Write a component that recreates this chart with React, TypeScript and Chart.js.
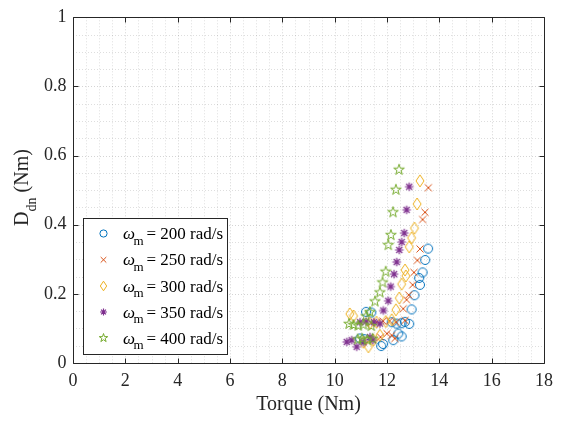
import { useEffect, useRef } from "react";
import { Chart, registerables } from "chart.js";

Chart.register(...registerables);

// Drive speeds (rad/s) shown in the legend
const speeds = [200, 250, 300, 350, 400];

// Torque (Nm) and D_dn (Nm) for each speed
const torque200 = [13.57, 13.46, 13.36, 13.26, 13.23, 13.05, 12.94, 12.85, 12.69, 12.56, 12.43, 12.56, 12.37, 12.18, 12.24, 11.85, 11.78, 11.4, 11.2, 11.13, 10.97];
const dn200 = [0.331, 0.298, 0.262, 0.226, 0.246, 0.196, 0.155, 0.113, 0.119, 0.115, 0.085, 0.077, 0.114, 0.118, 0.066, 0.055, 0.049, 0.146, 0.148, 0.069, 0.071];

const torque250 = [13.58, 13.45, 13.36, 13.26, 13.16, 13.03, 12.98, 12.83, 12.75, 12.62, 12.69, 12.35, 12.1, 11.85, 11.6, 11.4, 12.3, 12.18, 12.0, 11.75];
const dn250 = [0.507, 0.436, 0.415, 0.33, 0.297, 0.262, 0.226, 0.197, 0.183, 0.157, 0.123, 0.118, 0.122, 0.121, 0.118, 0.116, 0.071, 0.08, 0.085, 0.075];

const torque300 = [13.26, 13.15, 13.05, 12.94, 12.85, 12.72, 12.69, 12.56, 12.47, 12.34, 12.18, 11.95, 11.6, 11.35, 10.58, 10.72, 11.73, 11.48, 11.29, 11.1];
const dn300 = [0.527, 0.46, 0.39, 0.362, 0.336, 0.252, 0.269, 0.228, 0.188, 0.154, 0.125, 0.12, 0.118, 0.115, 0.142, 0.136, 0.08, 0.066, 0.047, 0.06];

const torque350 = [12.85, 12.75, 12.66, 12.56, 12.47, 12.37, 12.27, 12.14, 12.05, 11.86, 11.73, 11.5, 11.2, 10.97, 11.46, 11.35, 11.1, 10.84, 10.65, 10.46];
const dn350 = [0.51, 0.443, 0.376, 0.35, 0.327, 0.292, 0.257, 0.221, 0.18, 0.152, 0.114, 0.118, 0.12, 0.118, 0.066, 0.075, 0.06, 0.047, 0.066, 0.061];

const torque400 = [12.46, 12.34, 12.23, 12.15, 12.05, 11.95, 11.83, 11.73, 11.54, 11.35, 11.2, 11.4, 11.1, 10.9, 10.72, 10.55, 11.45, 11.25, 11.05, 10.88];
const dn400 = [0.559, 0.501, 0.436, 0.37, 0.341, 0.264, 0.233, 0.204, 0.178, 0.147, 0.135, 0.107, 0.111, 0.108, 0.11, 0.113, 0.07, 0.066, 0.07, 0.068];

const torqueSets = [torque200, torque250, torque300, torque350, torque400];
const dnSets = [dn200, dn250, dn300, dn350, dn400];

// Axis ranges and spacing
const xMin = 0;
const xMax = 18;
const xMajor = 2;
const xMinor = 0.5;
const yMin = 0;
const yMax = 1;
const yMajor = 0.2;
const yMinor = 0.05;

const colors = ["#0072BD", "#D95319", "#EDB120", "#7E2F8E", "#77AC30"];
const kinds = ["circle", "x", "diamond", "asterisk", "pentagram"] as const;
type Kind = (typeof kinds)[number];

const SERIF = '"Liberation Serif", "Times New Roman", serif';
const AXIS_COLOR = "#262626";

function traceMarker(ctx: CanvasRenderingContext2D, kind: Kind, s: number) {
  ctx.beginPath();
  if (kind === "circle") {
    ctx.arc(0, 0, 4.5 * s, 0, Math.PI * 2);
  } else if (kind === "x") {
    const r = 3.5 * s;
    ctx.moveTo(-r, -r);
    ctx.lineTo(r, r);
    ctx.moveTo(r, -r);
    ctx.lineTo(-r, r);
  } else if (kind === "diamond") {
    const w = 4 * s;
    const h = 6 * s;
    ctx.moveTo(0, -h);
    ctx.lineTo(w, 0);
    ctx.lineTo(0, h);
    ctx.lineTo(-w, 0);
    ctx.closePath();
  } else if (kind === "asterisk") {
    const r = 4.3 * s;
    const d = r * Math.SQRT1_2;
    ctx.moveTo(-r, 0);
    ctx.lineTo(r, 0);
    ctx.moveTo(0, -r);
    ctx.lineTo(0, r);
    ctx.moveTo(-d, -d);
    ctx.lineTo(d, d);
    ctx.moveTo(d, -d);
    ctx.lineTo(-d, d);
  } else {
    const R = 5.6 * s;
    const r = R * 0.382;
    for (let i = 0; i < 10; i++) {
      const a = -Math.PI / 2 + (i * Math.PI) / 5;
      const rr = i % 2 === 0 ? R : r;
      const px = Math.cos(a) * rr;
      const py = Math.sin(a) * rr;
      if (i === 0) ctx.moveTo(px, py);
      else ctx.lineTo(px, py);
    }
    ctx.closePath();
  }
}

function markerCanvas(kind: Kind, color: string): HTMLCanvasElement {
  const size = 16;
  const c = document.createElement("canvas");
  c.width = size;
  c.height = size;
  const ctx = c.getContext("2d")!;
  ctx.translate(size / 2, size / 2);
  ctx.strokeStyle = color;
  ctx.lineWidth = kind === "asterisk" ? 1.2 : 1;
  traceMarker(ctx, kind, 1);
  ctx.stroke();
  return c;
}

const matlabAxes = {
  id: "matlabAxes",
  beforeDraw(chart: Chart) {
    const { ctx, width, height } = chart;
    ctx.save();
    ctx.fillStyle = "#ffffff";
    ctx.fillRect(0, 0, width, height);
    ctx.restore();
  },
  beforeDatasetsDraw(chart: Chart) {
    const { ctx, chartArea: a, scales } = chart;
    const xs = scales.x;
    const ys = scales.y;
    ctx.save();
    ctx.lineWidth = 1;
    ctx.setLineDash([1, 2]);
    const nx = Math.round((xMax - xMin) / xMinor);
    for (let i = 1; i < nx; i++) {
      const v = xMin + i * xMinor;
      const px = Math.round(xs.getPixelForValue(v)) + 0.5;
      ctx.strokeStyle = i % Math.round(xMajor / xMinor) === 0 ? "rgba(0,0,0,0.17)" : "rgba(0,0,0,0.13)";
      ctx.beginPath();
      ctx.moveTo(px, a.top);
      ctx.lineTo(px, a.bottom);
      ctx.stroke();
    }
    const ny = Math.round((yMax - yMin) / yMinor);
    for (let i = 1; i < ny; i++) {
      const v = yMin + i * yMinor;
      const py = Math.round(ys.getPixelForValue(v)) + 0.5;
      ctx.strokeStyle = i % Math.round(yMajor / yMinor) === 0 ? "rgba(0,0,0,0.17)" : "rgba(0,0,0,0.13)";
      ctx.beginPath();
      ctx.moveTo(a.left, py);
      ctx.lineTo(a.right, py);
      ctx.stroke();
    }
    ctx.restore();
  },
  afterDatasetsDraw(chart: Chart) {
    const { ctx, chartArea: a, scales } = chart;
    const xs = scales.x;
    const ys = scales.y;
    const L = Math.round(a.left) + 0.5;
    const R = Math.round(a.right) + 0.5;
    const T = Math.round(a.top) + 0.5;
    const B = Math.round(a.bottom) + 0.5;
    ctx.save();
    ctx.strokeStyle = AXIS_COLOR;
    ctx.lineWidth = 1;
    ctx.beginPath();
    ctx.rect(L, T, R - L, B - T);
    ctx.stroke();
    // inward tick marks on all four sides
    const tl = 5;
    ctx.beginPath();
    for (let v = xMin; v <= xMax + 1e-9; v += xMajor) {
      const px = Math.round(xs.getPixelForValue(v)) + 0.5;
      ctx.moveTo(px, B);
      ctx.lineTo(px, B - tl);
      ctx.moveTo(px, T);
      ctx.lineTo(px, T + tl);
    }
    for (let v = yMin; v <= yMax + 1e-9; v += yMajor) {
      const py = Math.round(ys.getPixelForValue(v)) + 0.5;
      ctx.moveTo(L, py);
      ctx.lineTo(L + tl, py);
      ctx.moveTo(R, py);
      ctx.lineTo(R - tl, py);
    }
    ctx.stroke();

    // legend box
    const lx = 83.5;
    const ly = 218.5;
    const lw = 144;
    const lh = 136;
    ctx.fillStyle = "#ffffff";
    ctx.fillRect(lx, ly, lw, lh);
    ctx.strokeStyle = AXIS_COLOR;
    ctx.strokeRect(lx, ly, lw, lh);
    const rowY = [233.5, 259.8, 286, 312, 338];
    speeds.forEach((sp, i) => {
      const y = rowY[i];
      ctx.save();
      ctx.translate(103.5, y);
      ctx.strokeStyle = colors[i];
      ctx.lineWidth = kinds[i] === "asterisk" ? 1.2 : 1;
      traceMarker(ctx, kinds[i], 0.8);
      ctx.stroke();
      ctx.restore();
      ctx.fillStyle = "#000000";
      ctx.textBaseline = "alphabetic";
      ctx.textAlign = "left";
      ctx.font = `italic 17px ${SERIF}`;
      ctx.fillText("\u03C9", 123, y + 5.5);
      ctx.font = `13px ${SERIF}`;
      ctx.fillText("m", 133.5, y + 11);
      ctx.font = `17px ${SERIF}`;
      ctx.fillText(`= ${sp} rad/s`, 146.5, y + 5.5);
    });

    // y-axis title with subscript
    ctx.translate(28, 187.5);
    ctx.rotate(-Math.PI / 2);
    ctx.fillStyle = AXIS_COLOR;
    ctx.textBaseline = "alphabetic";
    ctx.textAlign = "left";
    const main = `20px ${SERIF}`;
    const sub = `14px ${SERIF}`;
    ctx.font = main;
    const wD = ctx.measureText("D").width;
    const wRest = ctx.measureText(" (Nm)").width;
    ctx.font = sub;
    const wSub = ctx.measureText("dn").width;
    let x = -(wD + wSub + wRest) / 2;
    ctx.font = main;
    ctx.fillText("D", x, 0);
    x += wD;
    ctx.font = sub;
    ctx.fillText("dn", x, 8);
    x += wSub;
    ctx.font = main;
    ctx.fillText(" (Nm)", x, 0);
    ctx.restore();
  },
};

const formatTick = (v: number | string) => String(Number(Number(v).toFixed(2)));

export default function App() {
  const ref = useRef<HTMLCanvasElement | null>(null);

  useEffect(() => {
    const canvas = ref.current;
    if (!canvas) return;
    const datasets = speeds.map((sp, i) => ({
      label: `\u03C9m = ${sp} rad/s`,
      data: torqueSets[i].map((t, j) => ({ x: t, y: dnSets[i][j] })),
      pointStyle: markerCanvas(kinds[i], colors[i]),
      pointRadius: 5,
      borderColor: colors[i],
      backgroundColor: "transparent",
      showLine: false,
      order: speeds.length - 1 - i,
    }));
    const chart = new Chart(canvas, {
      type: "scatter",
      data: { datasets },
      options: {
        responsive: false,
        animation: false,
        events: [],
        layout: { padding: { top: 14, right: 18, bottom: 0, left: 0 } },
        plugins: {
          legend: { display: false },
          tooltip: { enabled: false },
          title: { display: false },
        },
        scales: {
          x: {
            type: "linear",
            min: xMin,
            max: xMax,
            grid: { display: false, drawTicks: false },
            border: { display: false },
            ticks: {
              stepSize: xMajor,
              autoSkip: false,
              maxRotation: 0,
              padding: 7,
              color: AXIS_COLOR,
              font: { family: SERIF, size: 18 },
              callback: formatTick,
            },
            title: {
              display: true,
              text: "Torque (Nm)",
              color: AXIS_COLOR,
              font: { family: SERIF, size: 20 },
              padding: { top: 0, bottom: 6 },
            },
            afterFit: (s: any) => {
              s.height = 60;
            },
          },
          y: {
            type: "linear",
            min: yMin,
            max: yMax,
            grid: { display: false, drawTicks: false },
            border: { display: false },
            ticks: {
              stepSize: yMajor,
              autoSkip: false,
              padding: 6.5,
              color: AXIS_COLOR,
              font: { family: SERIF, size: 18 },
              callback: formatTick,
            },
            afterFit: (s: any) => {
              s.width = 73;
            },
          },
        },
      },
      plugins: [matlabAxes],
    });
    return () => chart.destroy();
  }, []);

  return (
    <div style={{ position: "fixed", left: 0, top: 0, width: 562, height: 423, background: "#fff" }}>
      <canvas ref={ref} width={562} height={423} style={{ display: "block" }} />
    </div>
  );
}
